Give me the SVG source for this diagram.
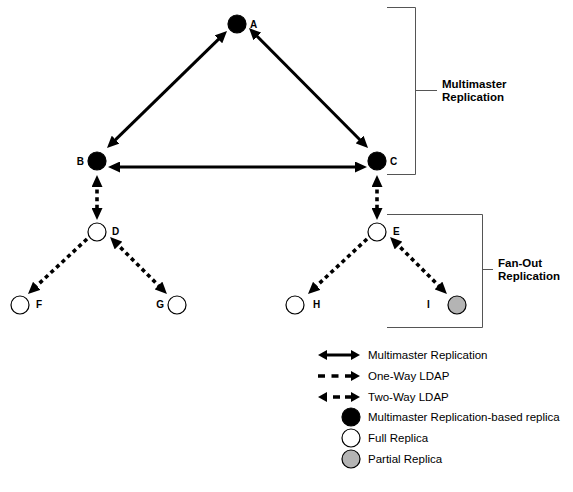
<svg xmlns="http://www.w3.org/2000/svg" width="573" height="492" viewBox="0 0 573 492">
<style>
.bg{fill:#ffffff}
.node-black{fill:#000000;stroke:#000000;stroke-width:1.2}
.node-white{fill:#ffffff;stroke:#000000;stroke-width:1.2}
.node-gray{fill:#b4b4b4;stroke:#000000;stroke-width:1.2}
.lbl{font-family:"Liberation Sans",Arial,sans-serif;font-size:10px;font-weight:bold;fill:#000}
.solid{stroke:#000;stroke-width:3;fill:none}
.dash{stroke:#000;stroke-width:3.6;fill:none;stroke-dasharray:4 3.6}
.ldash{stroke:#000;stroke-width:3.4;fill:none;stroke-dasharray:7 6.5}
.bracket{stroke:#555;stroke-width:1;fill:none}
.btxt{font-family:"Liberation Sans",Arial,sans-serif;font-size:11.5px;font-weight:bold;fill:#000}
.legtxt{font-family:"Liberation Sans",Arial,sans-serif;font-size:11.5px;fill:#000}
</style>
<defs>
<marker id="ah" markerUnits="userSpaceOnUse" markerWidth="12" markerHeight="11" refX="5" refY="5.5" orient="auto-start-reverse" viewBox="0 0 12 11">
<path d="M0,0 L12,5.5 L0,11 z" fill="#000"/>
</marker>
<marker id="lah" markerUnits="userSpaceOnUse" markerWidth="9" markerHeight="10" refX="3" refY="5" orient="auto-start-reverse" viewBox="0 0 9 10">
<path d="M0,0 L9,5 L0,10 z" fill="#000"/>
</marker>
</defs>
<rect class="bg" x="0" y="0" width="573" height="492"/>

<g id="brackets">
<path class="bracket" d="M387,7.5 H415.5 V174.5 H387 M415.5,90.5 H437"/>
<text class="btxt" x="442" y="88">Multimaster</text>
<text class="btxt" x="442" y="101">Replication</text>
<path class="bracket" d="M387,214.5 H482.5 V327.5 H387 M482.5,269.5 H493"/>
<text class="btxt" x="498" y="267">Fan-Out</text>
<text class="btxt" x="498" y="280">Replication</text>
</g>

<g id="connectors">
<line class="solid" x1="112" y1="143.1" x2="222" y2="35.9" marker-start="url(#ah)" marker-end="url(#ah)"/>
<line class="solid" x1="253.9" y1="33" x2="363.1" y2="143" marker-start="url(#ah)" marker-end="url(#ah)"/>
<line class="solid" x1="115" y1="167" x2="360" y2="167" marker-start="url(#ah)" marker-end="url(#ah)"/>
<line class="dash" x1="97" y1="182" x2="97" y2="213" marker-start="url(#ah)" marker-end="url(#ah)"/>
<line class="dash" x1="377" y1="182" x2="377" y2="213" marker-start="url(#ah)" marker-end="url(#ah)"/>
<line class="dash" x1="87" y1="239" x2="33.1" y2="289.2" marker-end="url(#ah)"/>
<line class="dash" x1="115" y1="242" x2="162" y2="289" marker-start="url(#ah)" marker-end="url(#ah)"/>
<line class="dash" x1="367" y1="239" x2="313.1" y2="289.2" marker-end="url(#ah)"/>
<line class="dash" x1="395" y1="242" x2="442" y2="289" marker-start="url(#ah)" marker-end="url(#ah)"/>
</g>

<g id="node-A"><circle class="node-black" cx="237" cy="24" r="9"/><text class="lbl" x="250" y="28">A</text></g>
<g id="node-B"><circle class="node-black" cx="97" cy="161" r="9"/><text class="lbl" x="84" y="165" text-anchor="end">B</text></g>
<g id="node-C"><circle class="node-black" cx="377" cy="161" r="9"/><text class="lbl" x="390" y="165">C</text></g>
<g id="node-D"><circle class="node-white" cx="97" cy="232" r="9"/><text class="lbl" x="112" y="235">D</text></g>
<g id="node-E"><circle class="node-white" cx="377" cy="232" r="9"/><text class="lbl" x="393" y="235">E</text></g>
<g id="node-F"><circle class="node-white" cx="20" cy="305" r="9"/><text class="lbl" x="36" y="308">F</text></g>
<g id="node-G"><circle class="node-white" cx="177" cy="305" r="9"/><text class="lbl" x="164" y="308" text-anchor="end">G</text></g>
<g id="node-H"><circle class="node-white" cx="295" cy="305" r="9"/><text class="lbl" x="313" y="308">H</text></g>
<g id="node-I"><circle class="node-gray" cx="457" cy="305" r="9"/><text class="lbl" x="427" y="308">I</text></g>

<g id="legend">
<line class="solid" x1="324" y1="355" x2="354" y2="355" marker-start="url(#lah)" marker-end="url(#lah)"/>
<text class="legtxt" x="368" y="359">Multimaster Replication</text>
<line class="ldash" x1="318" y1="376" x2="354" y2="376" marker-end="url(#lah)"/>
<text class="legtxt" x="368" y="380">One-Way LDAP</text>
<line class="solid" x1="324" y1="397" x2="354" y2="397" style="stroke-width:3.4;stroke-dasharray:3 6 7 5 20" marker-start="url(#lah)" marker-end="url(#lah)"/>
<text class="legtxt" x="368" y="401">Two-Way LDAP</text>
<circle class="node-black" cx="351" cy="417" r="9"/>
<text class="legtxt" x="368" y="421">Multimaster Replication-based replica</text>
<circle class="node-white" cx="351" cy="438" r="9"/>
<text class="legtxt" x="368" y="442">Full Replica</text>
<circle class="node-gray" cx="351" cy="459" r="9"/>
<text class="legtxt" x="368" y="463">Partial Replica</text>
</g>
</svg>
